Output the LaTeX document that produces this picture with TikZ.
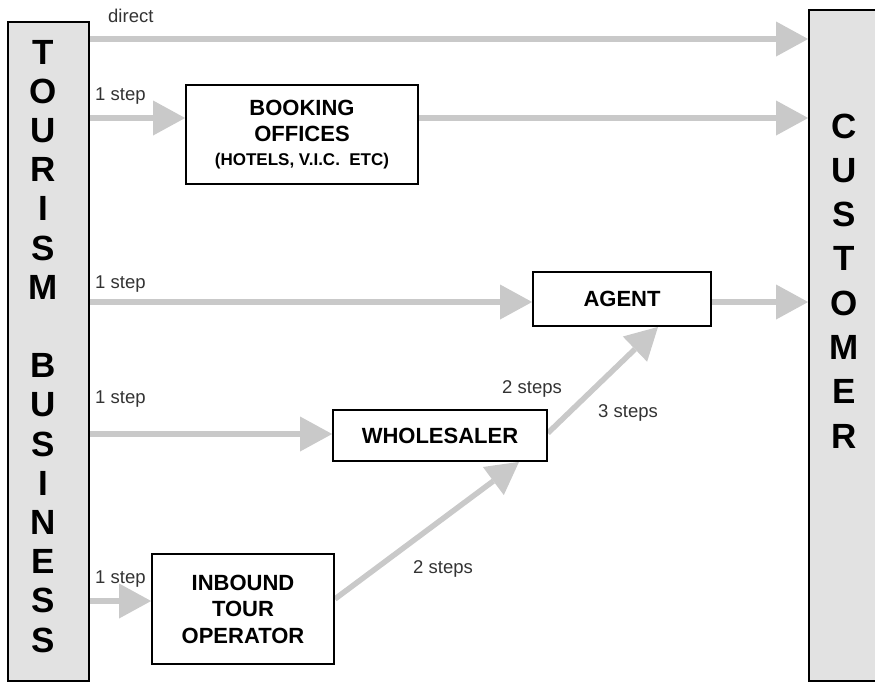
\documentclass[tikz,border=0pt]{standalone}
\usepackage{fontspec}
\setmainfont{Liberation Sans}
\usetikzlibrary{arrows.meta,backgrounds}
\definecolor{arrowgray}{HTML}{C9C9C9}
\definecolor{panelgray}{HTML}{E2E2E2}
\definecolor{labelgray}{HTML}{333333}
\begin{document}
\begin{tikzpicture}[x=1pt,y=-1pt,
  flow/.style={draw=arrowgray, line width=5.5pt, -{Triangle[length=32pt,width=35pt,line width=0pt]}},
  box/.style={draw=black, line width=1.8pt, fill=white, align=center, inner sep=0pt, font=\bfseries\fontsize{22}{26.5}\selectfont},
  panel/.style={draw=black, line width=1.8pt, fill=panelgray, inner sep=0pt},
  big/.style={font=\bfseries\fontsize{35}{40}\selectfont, inner sep=0pt},
  lab/.style={font=\fontsize{18.5}{22}\selectfont, text=labelgray, inner sep=0pt, anchor=base west}]
\useasboundingbox (0,0) rectangle (875,683);
\clip (0,0) rectangle (875,683);
% side panels
\node[panel, minimum width=81pt, minimum height=659pt] (tb) at (48.5,351.5) {};
\node[panel, minimum width=91pt, minimum height=671pt] (cust) at (854.5,345.5) {};
\foreach \l/\yy [count=\i] in {T/52,O/91.2,U/130.4,R/169.6,I/208.8,S/248,M/287.2,B/365.6,U/404.8,S/444,I/483.2,N/522.4,E/561.6,S/600.8,S/640}
  \node[big] (tb\i) at (43,\yy) {\l};
\foreach \l/\yy [count=\i] in {C/126,U/170.3,S/214.6,T/258.9,O/303.2,M/347.5,E/391.8,R/436.1}
  \node[big] (cu\i) at (844,\yy) {\l};
% boxes
\node[box, minimum width=232pt, minimum height=99pt] (booking) at (302,134.5) {BOOKING\\OFFICES\\[-3pt]{\fontsize{17}{20}\selectfont (HOTELS, V.I.C.\ \ ETC)}};
\node[box, minimum width=178pt, minimum height=54pt] (agent) at (622,299) {AGENT};
\node[box, minimum width=214pt, minimum height=51pt] (whole) at (440,435.5) {WHOLESALER};
\node[box, minimum width=182pt, minimum height=110pt] (inbound) at (243,609) {INBOUND\\TOUR\\OPERATOR};
% labels
\node[lab] (lDirect) at (108,22) {direct};
\node[lab] (l1) at (95,100) {1 step};
\node[lab] (l2) at (95,288) {1 step};
\node[lab] (l3) at (95,403) {1 step};
\node[lab] (l4) at (95,583) {1 step};
\node[lab] (l5) at (502,393) {2 steps};
\node[lab] (l6) at (598,417) {3 steps};
\node[lab] (l7) at (413,573) {2 steps};
% helper coordinates
\coordinate (yDirect) at (0,39);
\coordinate (yBook) at (0,118);
\coordinate (yAgent) at (0,302);
\coordinate (yWhole) at (0,434);
\coordinate (yIn) at (0,601);
\coordinate (yInOut) at (0,599);
\coordinate (xInW) at (519,0);
\coordinate (yWA) at (0,433);
\coordinate (xWA) at (658,0);
\begin{pgfonlayer}{background}
\draw[flow] (tb.east |- yDirect) -- (cust.west |- yDirect);
\draw[flow] (tb.east |- yBook) -- (booking.west |- yBook);
\draw[flow] (booking.east |- yBook) -- (cust.west |- yBook);
\draw[flow] (tb.east |- yAgent) -- (agent.west |- yAgent);
\draw[flow] (agent.east |- yAgent) -- (cust.west |- yAgent);
\draw[flow] (tb.east |- yWhole) -- (whole.west |- yWhole);
\draw[flow] (tb.east |- yIn) -- (inbound.west |- yIn);
\draw[flow] (inbound.east |- yInOut) -- (whole.south -| xInW);
\draw[flow] (whole.east |- yWA) -- (agent.south -| xWA);
\end{pgfonlayer}
\end{tikzpicture}
\end{document}
